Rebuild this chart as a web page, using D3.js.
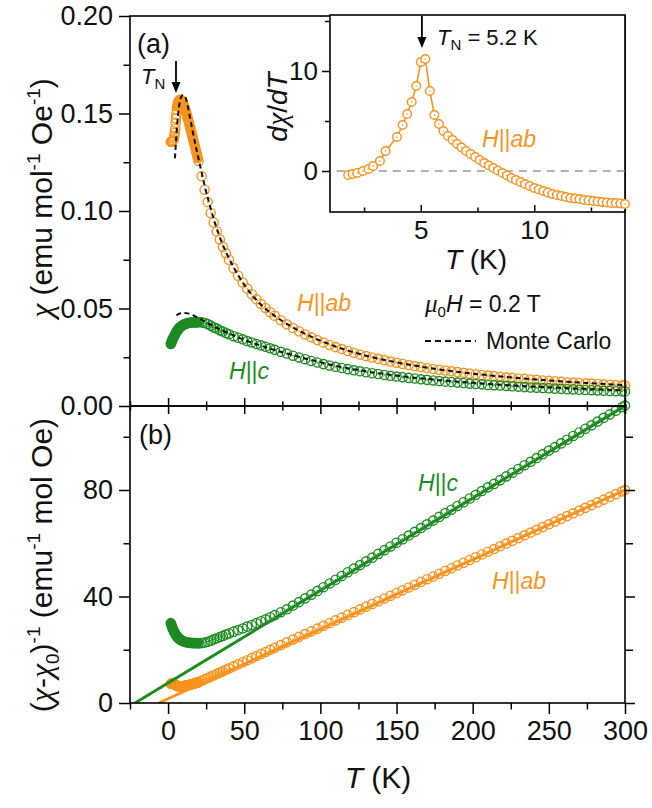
<!DOCTYPE html>
<html>
<head>
<meta charset="utf-8">
<script src="https://cdn.jsdelivr.net/npm/d3@7"></script>
<style>
  body { margin: 0; background: #fff; }
  svg text { font-family: "Liberation Sans", Arial, sans-serif; }
</style>
</head>
<body>
<svg id="fig" width="652" height="808"></svg>
<script>
// ---- data ----
// low temperature points, H || ab
var T_LO_AB = [1.8,2.2,2.6,3.0,3.4,3.8,4.1,4.4,4.7,5.0,5.2,5.4,5.7,6.0,6.4,6.8,7.2,7.6,8.0,8.5,9.0,9.5,10,10.5,11,11.5,12,12.5,13,13.5,14,14.5,15,15.5,16,16.5,17,17.5,18,18.5,19,19.5];
var CHI_AB_LO = [0.1355,0.1355,0.1356,0.1358,0.1363,0.1372,0.1384,0.1400,0.1422,0.1452,0.1474,0.1495,0.1520,0.1537,0.1551,0.1560,0.1566,0.1569,0.1570,0.1569,0.1565,0.1558,0.1549,0.1538,0.1527,0.1515,0.1502,0.1488,0.1474,0.1459,0.1443,0.1428,0.1413,0.1397,0.1382,0.1366,0.1350,0.1335,0.1319,0.1303,0.1288,0.1272];
var INV_AB_LO = [7.27,7.27,7.27,7.26,7.23,7.18,7.13,7.04,6.93,6.79,6.69,6.60,6.49,6.42,6.36,6.33,6.30,6.29,6.29,6.29,6.31,6.34,6.37,6.41,6.46,6.51,6.56,6.62,6.68,6.74,6.84,6.91,6.98,7.06,7.13,7.21,7.30,7.38,7.47,7.56,7.65,7.74];

// low temperature points, H || c
var T_LO_C = [1.8,2.2,2.6,3.0,3.5,4.0,4.5,5.0,5.5,6.0,6.5,7.0,7.5,8.0,9,10,11,12,13,14,15,16,17,18,19];
var CHI_C_LO = [0.0318,0.0326,0.0335,0.0342,0.0350,0.0358,0.0366,0.0373,0.0380,0.0386,0.0392,0.0397,0.0401,0.0405,0.0411,0.0416,0.0420,0.0423,0.0425,0.0427,0.0428,0.0429,0.0429,0.0429,0.0428];
var INV_C_LO = [30.0,29.3,28.6,28.0,27.4,26.8,26.2,25.7,25.3,24.9,24.5,24.3,24.0,23.8,23.5,23.2,23.0,22.8,22.7,22.6,22.6,22.5,22.5,22.5,22.5];

// 20 - 300 K, shared temperature grid
var T_HI = [20,22,24,26,28,30,32,34,36,38,40,43,46,49,52,55,58,61,64,67,70,74,78,82,86,90,94,98,102,106,110,114,118,122,126,130,134,138,142,146,150,154,158,162,166,170,174,178,182,186,190,194,198,202,206,210,214,218,222,226,230,234,238,242,246,250,254,258,262,266,270,274,278,282,286,290,294,298,300];
var CHI_AB_HI = [0.1257,0.1178,0.1109,0.1046,0.0990,0.0941,0.0895,0.0854,0.0816,0.0782,0.0750,
  0.0707,0.0668,0.0633,0.0602,0.0573,0.0547,0.0523,0.0502,0.0481,0.0463,
  0.0440,0.0419,0.0400,0.0383,0.0367,0.0352,0.0338,0.0325,0.0313,0.0302,0.0292,0.0282,0.0273,0.0264,0.0256,0.0249,0.0242,0.0235,0.0228,0.0222,0.0216,0.0210,0.0205,0.0200,0.0195,0.0190,0.0186,0.0182,0.0178,0.0174,0.0170,0.0166,0.0163,0.0159,0.0156,0.0153,0.0150,0.0147,0.0144,0.0141,0.0139,0.0136,0.0134,0.0131,0.0129,0.0127,0.0125,0.0122,0.0120,0.0118,0.0116,0.0115,0.0113,0.0111,0.0109,0.0107,0.0106,
  0.0105];
var CHI_C_HI = [0.0431,0.0429,0.0426,0.0420,0.0412,0.0403,0.0397,0.0388,0.0382,0.0374,0.0368,
  0.0358,0.0350,0.0342,0.0333,0.0326,0.0318,0.0311,0.0304,0.0296,0.0288,
  0.0278,0.0269,0.0258,0.0249,0.0240,0.0231,0.0223,0.0215,0.0208,0.0201,0.0195,0.0189,0.0183,0.0178,0.0173,0.0168,0.0164,0.0159,0.0155,0.0151,0.0148,0.0144,0.0141,0.0137,0.0134,0.0131,0.0128,0.0125,0.0123,0.0120,0.0118,0.0115,0.0113,0.0111,0.0108,0.0107,0.0105,0.0103,0.0101,0.0099,0.0097,0.0095,0.0094,0.0092,0.0091,0.0089,0.0088,0.0086,0.0085,0.0083,0.0082,0.0081,0.0080,0.0078,0.0077,0.0076,0.0075,
  0.0075];
var INV_AB_HI = [7.83,8.35,8.86,9.38,9.90,10.41,10.93,11.44,11.96,12.47,12.99,
  13.76,14.53,15.31,16.08,16.85,17.63,18.40,19.17,19.95,20.72,
  21.75,22.78,23.81,24.84,25.87,26.90,27.93,28.97,30.00,31.03,32.06,33.09,34.12,35.15,36.18,37.21,38.24,39.27,40.30,41.34,42.37,43.40,44.43,45.46,46.49,47.52,48.55,49.58,50.61,51.64,52.67,53.70,54.74,55.77,56.80,57.83,58.86,59.89,60.92,61.95,62.98,64.01,65.04,66.07,67.11,68.14,69.17,70.20,71.23,72.26,73.29,74.32,75.35,76.38,77.41,78.44,79.47,
  79.99];
var INV_C_HI = [22.4,22.5,22.7,23.0,23.4,23.9,24.3,24.8,25.2,25.7,26.1,
  26.8,27.4,28.0,28.7,29.3,30.0,30.7,31.4,32.2,33.0,
  34.1,35.2,36.6,37.9,39.3,40.7,42.1,43.5,44.9,46.3,47.7,49.1,50.5,51.8,53.2,54.6,56.0,57.4,58.8,60.2,61.5,62.9,64.3,65.7,67.1,68.5,69.9,71.3,72.6,74.0,75.4,76.8,78.2,79.6,81.0,82.3,83.7,85.1,86.5,87.9,89.3,90.6,92.0,93.4,94.8,96.1,97.5,98.9,100.3,101.6,103.0,104.3,105.7,107.1,108.4,109.8,111.1,
  111.7];

// Monte Carlo curves
var MC_T_AB = [4.5,5,5.5,6,6.5,7,7.5,8,9,10,11,12,13,14,15,16,18,20,22,24,27,30,34,38,43,50,60,70,80,95,110,130,150,175,200,225,250,275,300];
var MC_AB = [0.127,0.133,0.139,0.1445,0.149,0.1525,0.155,0.157,0.159,0.1595,0.159,0.157,0.1535,0.1495,0.1455,0.1415,0.1338,0.1268,0.1198,0.1130,0.1040,0.0958,0.0866,0.0790,0.0712,0.0622,0.0527,0.0462,0.0412,0.0352,0.0305,0.0258,0.0224,0.0191,0.0166,0.0147,0.0131,0.0118,0.0107];
var MC_T_C = [5.5,7,9,11,13,15,17,19,22,25,28,32,36,40,45,50,60,70,80,95,110,130,150,175,200,225,250,275,300];
var MC_C = [0.0465,0.0472,0.0476,0.0477,0.0475,0.0470,0.0463,0.0455,0.0443,0.0430,0.0417,0.0401,0.0386,0.0372,0.0355,0.0339,0.0312,0.0287,0.0265,0.0234,0.0206,0.0178,0.0156,0.0135,0.0119,0.0106,0.0096,0.0087,0.0080];

// Curie-Weiss fit lines, (T, 1/(chi-chi0)) end points
var FIT_AB = [[-6.1, 0], [300, 80.0]];
var FIT_C = [[-21.7, 0], [300, 111.6]];

// inset: dchi/dT, H || ab
var DX_T = [1.8,2.0,2.2,2.45,2.7,2.9,3.2,3.45,3.95,4.2,4.4,4.6,4.8,5.0,5.2,5.4,5.6,5.8,6.0,6.2,6.4,6.6,6.8,7.0,7.2,7.4,7.6,7.8,8.0,8.2,8.4,8.6,8.8,9.0,9.2,9.4,9.6,9.8,10.0,10.2,10.4,10.6,10.8,11.0,11.2,11.4,11.6,11.8,12.0,12.2,12.4,12.6,12.8,13.0,13.2,13.4,13.6,13.8,14.0];
var DX_V = [-0.4,-0.3,-0.2,0.0,0.2,0.5,1.0,2.0,3.4,4.6,5.7,6.9,8.5,10.9,11.2,8.0,5.6,4.7,4.0,3.5,3.1,2.7,2.35,2.0,1.7,1.4,1.1,0.8,0.55,0.3,0.05,-0.2,-0.45,-0.7,-0.9,-1.1,-1.3,-1.5,-1.7,-1.85,-2.0,-2.15,-2.3,-2.4,-2.5,-2.6,-2.7,-2.75,-2.8,-2.9,-2.95,-3.0,-3.05,-3.1,-3.15,-3.2,-3.2,-3.25,-3.3];

// ticks
var X_MAJOR = [0,50,100,150,200,250,300];
var X_MINOR = [-25,25,75,125,175,225,275];
var YA_MAJOR = [0,0.05,0.10,0.15,0.20];
var YA_MINOR = [0.025,0.075,0.125,0.175];
var YB_MAJOR = [0,40,80];
var YB_MINOR = [20,60,100];
var XI_MAJOR = [5,10];
var XI_MINOR = [2.5,7.5,12.5];
var YI_MAJOR = [0,10];
var YI_MINOR = [5,15];

var TN = 5.2;

// ---- layout ----
var ORANGE = '#F7931E';
var GREEN = '#1E8B22';
var X0 = 130, X1 = 625;
var YTOP = 16, YMID = 406, YBOT = 703;
var R = 4.6;

var svg = d3.select('#fig');

var x = d3.scaleLinear().domain([-25, 300]).range([X0, X1]);
var yA = d3.scaleLinear().domain([0, 0.2]).range([YMID, YTOP]);
var yB = d3.scaleLinear().domain([0, 111.55]).range([YBOT, YMID]);
var xi = d3.scaleLinear().domain([1, 14]).range([330, X1]);
var yi = d3.scaleLinear().domain([-4.1, 15.6]).range([212, 15]);

function pairs(ts, vs) {
  var out = [];
  for (var i = 0; i < ts.length && i < vs.length; i++) out.push([ts[i], vs[i]]);
  return out;
}

function styleAxis(g, fs) {
  g.select('.domain').remove();
  g.selectAll('line').attr('stroke', '#000').attr('stroke-width', 1.5);
  g.selectAll('text').attr('font-size', fs || 27).attr('fill', '#111');
}

// rich text: parts = [{t, i, f, s, dy}]
function rich(sel, parts) {
  parts.forEach(function (p) {
    var ts = sel.append('tspan').text(p.t);
    if (p.i) ts.attr('font-style', 'italic');
    if (p.f) ts.attr('font-family', p.f);
    if (p.s) ts.attr('font-size', p.s);
    if (p.dy) ts.attr('dy', p.dy);
  });
  return sel;
}

var SERIF = '"Liberation Serif", "DejaVu Serif", serif';

// open circles with a small centre dot; 'solid' fills them (dense low-T runs)
function circles(g, pts, xs, ys, color, r, fill) {
  g.selectAll(null).data(pts).enter().append('circle')
    .attr('cx', function (d) { return xs(d[0]); })
    .attr('cy', function (d) { return ys(d[1]); })
    .attr('r', r)
    .attr('fill', fill === 'solid' ? color : (fill || 'none'))
    .attr('stroke', color)
    .attr('stroke-width', 1.4);
  if (fill === 'solid') return;
  g.selectAll(null).data(pts).enter().append('circle')
    .attr('cx', function (d) { return xs(d[0]); })
    .attr('cy', function (d) { return ys(d[1]); })
    .attr('r', 0.8)
    .attr('fill', color);
}

// ---- panel (a) ----
var gA = svg.append('g');
var abLo = pairs(T_LO_AB, CHI_AB_LO);
circles(gA, abLo.filter(function (d) { return d[0] < 6; }), x, yA, ORANGE, R);
circles(gA, abLo.filter(function (d) { return d[0] >= 6; }), x, yA, ORANGE, R, 'solid');
circles(gA, pairs(T_HI, CHI_AB_HI), x, yA, ORANGE, R);
circles(gA, pairs(T_LO_C, CHI_C_LO), x, yA, GREEN, R, 'solid');
circles(gA, pairs(T_HI, CHI_C_HI), x, yA, GREEN, R);

var lineA = d3.line().x(function (d) { return x(d[0]); }).y(function (d) { return yA(d[1]); }).curve(d3.curveMonotoneX);
[pairs(MC_T_AB, MC_AB), pairs(MC_T_C, MC_C)].forEach(function (pts) {
  gA.append('path').attr('d', lineA(pts))
    .attr('fill', 'none').attr('stroke', '#111')
    .attr('stroke-width', 2).attr('stroke-dasharray', '5,3.5');
});

// ---- panel (b) ----
var gB = svg.append('g');
circles(gB, pairs(T_LO_AB, INV_AB_LO), x, yB, ORANGE, R, 'solid');
circles(gB, pairs(T_HI, INV_AB_HI), x, yB, ORANGE, R);
circles(gB, pairs(T_LO_C, INV_C_LO), x, yB, GREEN, R, 'solid');
circles(gB, pairs(T_HI, INV_C_HI), x, yB, GREEN, R);
var lineB = d3.line().x(function (d) { return x(d[0]); }).y(function (d) { return yB(d[1]); });
gB.append('path').attr('d', lineB(FIT_AB)).attr('stroke', ORANGE).attr('stroke-width', 3).attr('fill', 'none');
gB.append('path').attr('d', lineB(FIT_C)).attr('stroke', GREEN).attr('stroke-width', 3).attr('fill', 'none');

// ---- frames ----
svg.append('rect').attr('x', X0).attr('y', YTOP).attr('width', X1 - X0).attr('height', YMID - YTOP)
  .attr('fill', 'none').attr('stroke', '#000').attr('stroke-width', 1.6);
svg.append('rect').attr('x', X0).attr('y', YMID).attr('width', X1 - X0).attr('height', YBOT - YMID)
  .attr('fill', 'none').attr('stroke', '#000').attr('stroke-width', 1.6);

// ---- axes ----
var ax;
ax = svg.append('g').attr('transform', 'translate(' + X0 + ',0)')
  .call(d3.axisLeft(yA).tickValues(YA_MAJOR).tickFormat(d3.format('.2f')).tickSize(11).tickPadding(6));
styleAxis(ax);
ax = svg.append('g').attr('transform', 'translate(' + X0 + ',0)')
  .call(d3.axisLeft(yA).tickValues(YA_MINOR).tickFormat('').tickSize(6.5));
styleAxis(ax);
ax = svg.append('g').attr('transform', 'translate(' + X0 + ',0)')
  .call(d3.axisLeft(yB).tickValues(YB_MAJOR).tickSize(11).tickPadding(6));
styleAxis(ax);
ax = svg.append('g').attr('transform', 'translate(' + X0 + ',0)')
  .call(d3.axisLeft(yB).tickValues(YB_MINOR).tickFormat('').tickSize(6.5));
styleAxis(ax);
ax = svg.append('g').attr('transform', 'translate(' + X1 + ',0)')
  .call(d3.axisRight(yB).tickValues(YB_MAJOR).tickFormat('').tickSize(10));
styleAxis(ax);
ax = svg.append('g').attr('transform', 'translate(' + X1 + ',0)')
  .call(d3.axisRight(yB).tickValues(YB_MINOR).tickFormat('').tickSize(8));
styleAxis(ax);
// bottom axis
ax = svg.append('g').attr('transform', 'translate(0,' + YBOT + ')')
  .call(d3.axisBottom(x).tickValues(X_MAJOR).tickSize(11).tickPadding(7));
styleAxis(ax);
ax = svg.append('g').attr('transform', 'translate(0,' + YBOT + ')')
  .call(d3.axisBottom(x).tickValues(X_MINOR).tickFormat('').tickSize(6.5));
styleAxis(ax);
// shared middle axis, ticks crossing
ax = svg.append('g').attr('transform', 'translate(0,' + (YMID - 8) + ')')
  .call(d3.axisBottom(x).tickValues(X_MAJOR).tickFormat('').tickSize(16));
styleAxis(ax);
ax = svg.append('g').attr('transform', 'translate(0,' + (YMID - 4.5) + ')')
  .call(d3.axisBottom(x).tickValues(X_MINOR).tickFormat('').tickSize(9));
styleAxis(ax);

// ---- axis titles ----
rich(svg.append('text').attr('transform', 'translate(52,198) rotate(-90)')
  .attr('text-anchor', 'middle').attr('font-size', 30).attr('fill', '#111'), [
  { t: 'χ', i: true, f: SERIF, s: 32 }, { t: ' (emu mol' }, { t: '-1', s: 19, dy: -12 },
  { t: ' Oe', dy: 12 }, { t: '-1', s: 19, dy: -12 }, { t: ')', dy: 12 }
]);
rich(svg.append('text').attr('transform', 'translate(52,565) rotate(-90)')
  .attr('text-anchor', 'middle').attr('font-size', 30).attr('fill', '#111'), [
  { t: '(' }, { t: 'χ', i: true, f: SERIF, s: 32 }, { t: '-' }, { t: 'χ', i: true, f: SERIF, s: 32 },
  { t: '0', s: 19, dy: 7 }, { t: ')', dy: -7 }, { t: '-1', s: 19, dy: -12 },
  { t: ' (emu', dy: 12 }, { t: '-1', s: 19, dy: -12 }, { t: ' mol Oe)', dy: 12 }
]);
rich(svg.append('text').attr('x', 378).attr('y', 788).attr('text-anchor', 'middle')
  .attr('font-size', 30).attr('fill', '#111'), [{ t: 'T', i: true }, { t: ' (K)' }]);

// ---- annotations, panel (a) ----
svg.append('text').attr('x', 137).attr('y', 53).attr('font-size', 27).attr('fill', '#111').text('(a)');
rich(svg.append('text').attr('x', 141).attr('y', 84).attr('font-size', 22).attr('fill', '#111'), [
  { t: 'T', i: true }, { t: 'N', s: 15, dy: 5 }
]);
function arrow(xp, y0, y1) {
  svg.append('line').attr('x1', xp).attr('x2', xp).attr('y1', y0).attr('y2', y1 - 8)
    .attr('stroke', '#000').attr('stroke-width', 1.8);
  svg.append('path').attr('d', 'M' + (xp - 4.5) + ',' + (y1 - 11) + 'L' + (xp + 4.5) + ',' + (y1 - 11) + 'L' + xp + ',' + y1 + 'Z')
    .attr('fill', '#000');
}
arrow(x(TN), 61, 93);

rich(svg.append('text').attr('x', 297).attr('y', 311).attr('font-size', 23).attr('fill', ORANGE), [
  { t: 'H', i: true }, { t: '||' }, { t: 'ab', i: true }
]);
rich(svg.append('text').attr('x', 229).attr('y', 379).attr('font-size', 23).attr('fill', GREEN), [
  { t: 'H', i: true }, { t: '||' }, { t: 'c', i: true }
]);
rich(svg.append('text').attr('x', 425).attr('y', 312).attr('font-size', 23).attr('fill', '#111'), [
  { t: 'μ', i: true, f: SERIF, s: 25 }, { t: '0', s: 15, dy: 5 }, { t: 'H', i: true, dy: -5 }, { t: ' = 0.2 T' }
]);
svg.append('line').attr('x1', 425).attr('x2', 476).attr('y1', 341).attr('y2', 341)
  .attr('stroke', '#111').attr('stroke-width', 2).attr('stroke-dasharray', '6,4');
svg.append('text').attr('x', 486).attr('y', 349).attr('font-size', 23).attr('fill', '#111').text('Monte Carlo');

// ---- annotations, panel (b) ----
svg.append('text').attr('x', 139).attr('y', 444).attr('font-size', 27).attr('fill', '#111').text('(b)');
rich(svg.append('text').attr('x', 418).attr('y', 491).attr('font-size', 23).attr('fill', GREEN), [
  { t: 'H', i: true }, { t: '||' }, { t: 'c', i: true }
]);
rich(svg.append('text').attr('x', 492).attr('y', 589).attr('font-size', 23).attr('fill', ORANGE), [
  { t: 'H', i: true }, { t: '||' }, { t: 'ab', i: true }
]);

// ---- inset ----
var gI = svg.append('g');
gI.append('rect').attr('x', xi(1)).attr('y', yi(15.6)).attr('width', xi(14) - xi(1)).attr('height', yi(-4.1) - yi(15.6))
  .attr('fill', '#fff').attr('stroke', '#000').attr('stroke-width', 1.6);
gI.append('line').attr('x1', xi(1.3)).attr('x2', xi(14)).attr('y1', yi(0)).attr('y2', yi(0))
  .attr('stroke', '#999').attr('stroke-width', 1.5).attr('stroke-dasharray', '8,6');
var inset = pairs(DX_T, DX_V);
gI.append('path').attr('d', d3.line().x(function (d) { return xi(d[0]); }).y(function (d) { return yi(d[1]); })(inset))
  .attr('fill', 'none').attr('stroke', ORANGE).attr('stroke-width', 1.6);
circles(gI, inset, xi, yi, ORANGE, 4.3, '#fff');

ax = gI.append('g').attr('transform', 'translate(' + xi(1) + ',0)')
  .call(d3.axisLeft(yi).tickValues(YI_MAJOR).tickSize(8).tickPadding(4));
styleAxis(ax, 26);
ax = gI.append('g').attr('transform', 'translate(' + xi(1) + ',0)')
  .call(d3.axisLeft(yi).tickValues(YI_MINOR).tickFormat('').tickSize(5));
styleAxis(ax);
ax = gI.append('g').attr('transform', 'translate(0,' + yi(-4.1) + ')')
  .call(d3.axisBottom(xi).tickValues(XI_MAJOR).tickSizeInner(-7).tickSizeOuter(0).tickPadding(9));
styleAxis(ax, 26);
ax = gI.append('g').attr('transform', 'translate(0,' + yi(-4.1) + ')')
  .call(d3.axisBottom(xi).tickValues(XI_MINOR).tickFormat('').tickSizeInner(-4.5).tickSizeOuter(0));
styleAxis(ax);

rich(gI.append('text').attr('x', 476).attr('y', 269).attr('text-anchor', 'middle')
  .attr('font-size', 28).attr('fill', '#111'), [{ t: 'T', i: true }, { t: ' (K)' }]);
rich(gI.append('text').attr('transform', 'translate(287,107) rotate(-90)').attr('text-anchor', 'middle')
  .attr('font-size', 28).attr('fill', '#111'), [
  { t: 'd', i: true }, { t: 'χ', i: true, f: SERIF, s: 30 }, { t: '/' }, { t: 'dT', i: true }
]);
svg.append('line').attr('x1', xi(5.05)).attr('x2', xi(5.05)).attr('y1', 16).attr('y2', 40)
  .attr('stroke', '#000').attr('stroke-width', 1.8);
svg.append('path').attr('d', 'M' + (xi(5.05) - 4.5) + ',37L' + (xi(5.05) + 4.5) + ',37L' + xi(5.05) + ',48Z').attr('fill', '#000');
rich(gI.append('text').attr('x', 437).attr('y', 45).attr('font-size', 22).attr('fill', '#111'), [
  { t: 'T', i: true }, { t: 'N', s: 15, dy: 5 }, { t: ' = 5.2 K', dy: -5 }
]);
rich(gI.append('text').attr('x', 482).attr('y', 147).attr('font-size', 23).attr('fill', ORANGE), [
  { t: 'H', i: true }, { t: '||' }, { t: 'ab', i: true }
]);
</script>
</body>
</html>
